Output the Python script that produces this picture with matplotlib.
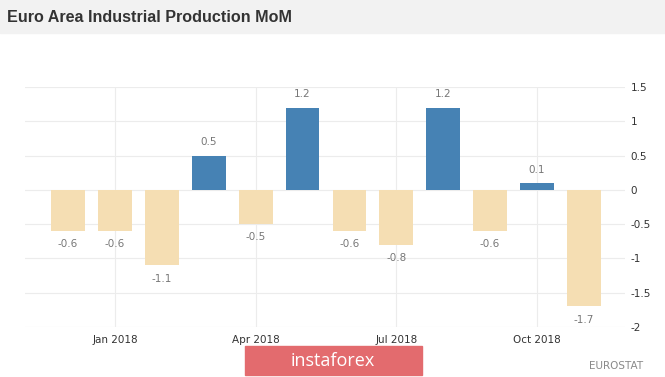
import matplotlib
matplotlib.use("Agg")
import matplotlib.pyplot as plt
from matplotlib.patches import Rectangle

# Monthly change, Dec 2017 .. Nov 2018
months = ["Dec 2017", "Jan 2018", "Feb 2018", "Mar 2018", "Apr 2018", "May 2018",
          "Jun 2018", "Jul 2018", "Aug 2018", "Sep 2018", "Oct 2018", "Nov 2018"]
values = [-0.6, -0.6, -1.1, 0.5, -0.5, 1.2, -0.6, -0.8, 1.2, -0.6, 0.1, -1.7]
tick_months = ["Jan 2018", "Apr 2018", "Jul 2018", "Oct 2018"]
yticks = [1.5, 1, 0.5, 0, -0.5, -1, -1.5, -2]

BLUE = "#4682b4"
WHEAT = "#f5deb3"

fig = plt.figure(figsize=(6.65, 3.77), dpi=100)
W, H = 665, 377

# grey header band
fig.patches.append(Rectangle((0, 1 - 33 / H), 1, 33 / H, transform=fig.transFigure,
                             color="#f2f2f2", zorder=0))
fig.text(7 / W, 1 - 17 / H, "Euro Area Industrial Production MoM", fontsize=11.6,
         fontweight="bold", color="#333333", va="center", ha="left",
         family="Liberation Sans")

ax = fig.add_axes([25 / W, 1 - 327 / H, 600 / W, 240 / H])
x = list(range(len(values)))
colors = [BLUE if v >= 0 else WHEAT for v in values]
ax.bar(x, values, width=0.72, color=colors, zorder=2)

for xi, v in zip(x, values):
    off = 6 if v >= 0 else -6
    ax.annotate(f"{v:g}", (xi, v), xytext=(0, off), textcoords="offset points",
                ha="center", va="bottom" if v >= 0 else "top",
                fontsize=7.5, color="#777777")

ax.set_xlim(-0.92, 11.88)
ax.set_ylim(-2, 1.5)
ax.set_yticks(yticks)
ax.set_yticklabels([f"{t:g}" for t in yticks])
ax.yaxis.tick_right()
ax.set_xticks([months.index(m) for m in tick_months])
ax.set_xticklabels(tick_months)
ax.tick_params(length=0, labelsize=7.5, colors="#333333", pad=4)
ax.tick_params(axis="x", pad=6)
ax.grid(True, color="#ececec", linewidth=0.8, zorder=0)
for s in ax.spines.values():
    s.set_visible(False)

# source and watermark
fig.text(589 / W, 1 - 366 / H, "EUROSTAT", fontsize=7.5, color="#8a8a8a",
         va="center", ha="left")
fig.patches.append(Rectangle((245 / W, 1 - 375 / H), 177 / W, 29 / H,
                             transform=fig.transFigure, color="#e36b6e", zorder=5))
fig.text(333 / W, 1 - 361 / H, "instaforex", fontsize=13, color="white",
         ha="center", va="center", zorder=6, family="Open Sans")

fig.savefig("out.png", dpi=100)
